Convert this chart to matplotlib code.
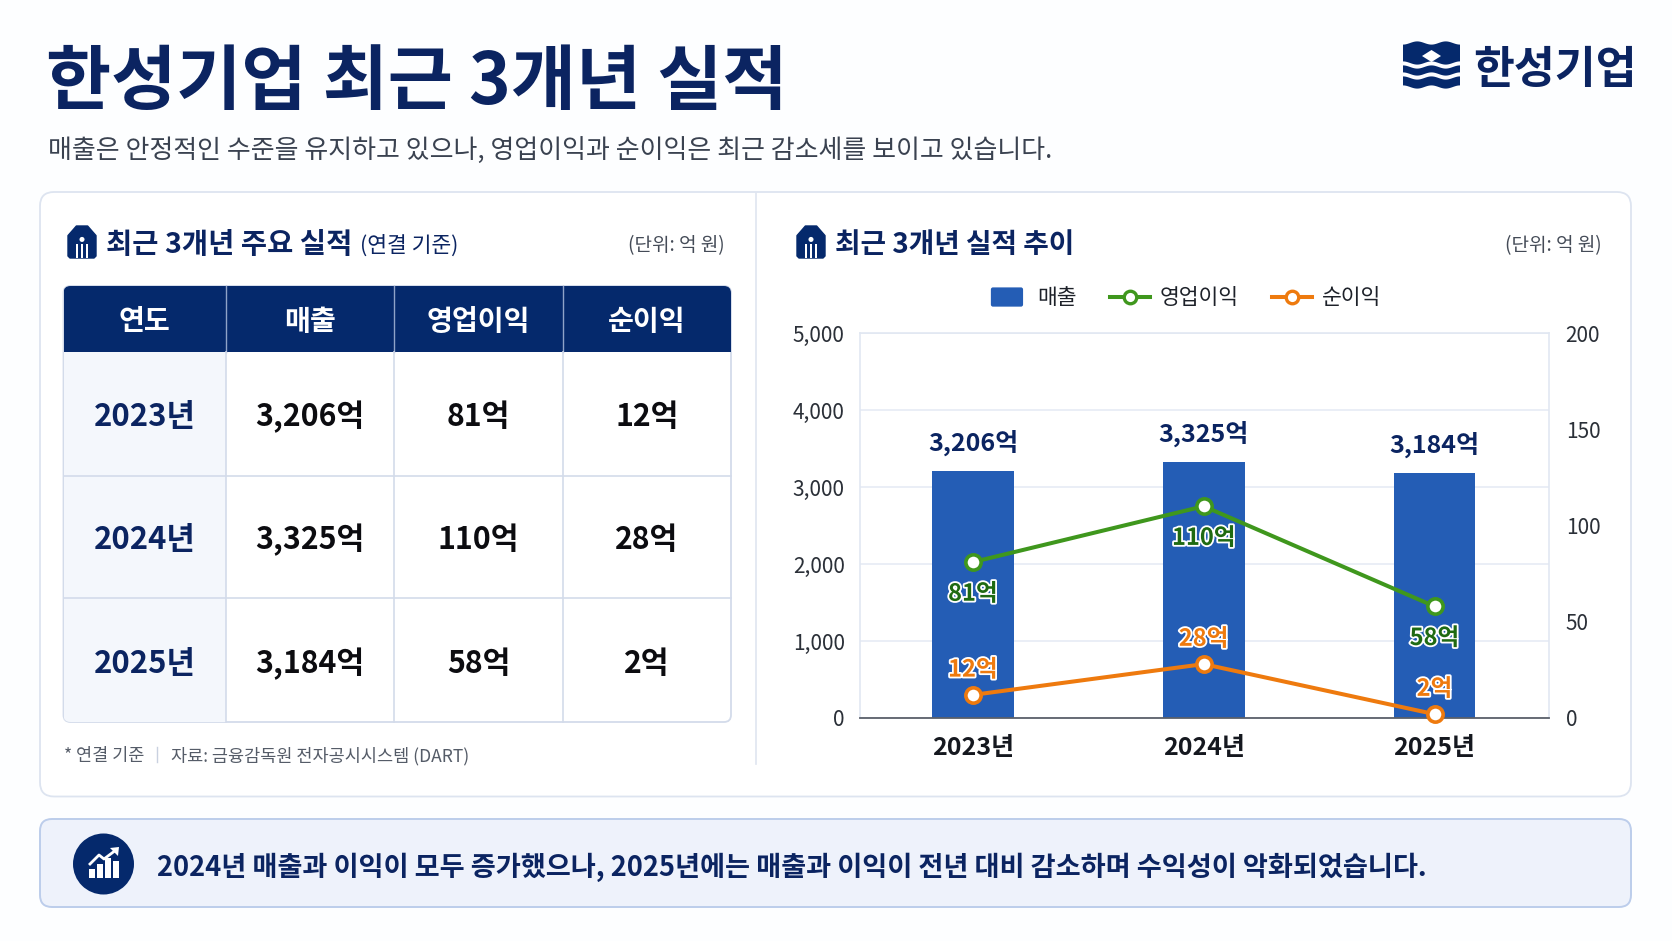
import numpy as np
import matplotlib
matplotlib.use("Agg")
import matplotlib.pyplot as plt
import matplotlib.patheffects as pe
from matplotlib.patches import FancyBboxPatch, Rectangle, Polygon, Circle
from matplotlib.lines import Line2D
from matplotlib.legend_handler import HandlerPatch
from matplotlib.ticker import FuncFormatter

plt.rcParams['font.family'] = ['Noto Sans CJK KR', 'DejaVu Sans']

# ---------- data ----------
years = ['2023년', '2024년', '2025년']
revenue = [3206, 3325, 3184]
op_profit = [81, 110, 58]
net_profit = [12, 28, 2]
table_headers = ['연도', '매출', '영업이익', '순이익']
left_ticks = [0, 1000, 2000, 3000, 4000, 5000]
right_ticks = [0, 50, 100, 150, 200]

# ---------- colours ----------
NAVY = '#0b2461'
HEAD = '#05296c'
BLUE = '#245db5'
GREEN = '#3f971d'
ORANGE = '#ee7a0e'
W, H = 1672, 941

fig = plt.figure(figsize=(W / 100, H / 100), dpi=100, facecolor='#fdfeff')
bg = fig.add_axes([0, 0, 1, 1], zorder=0)
bg.set_xlim(0, W)
bg.set_ylim(H, 0)
bg.axis('off')


def rbox(x0, y0, x1, y1, r, fc, ec, lw=1.2, z=1):
    p = FancyBboxPatch((x0, y0), x1 - x0, y1 - y0, boxstyle=f'round,pad=0,rounding_size={r}',
                       fc=fc, ec=ec, lw=lw, zorder=z)
    bg.add_patch(p)
    return p


def txt(x, y, s, size, color='#111111', weight='normal', ha='left', z=5):
    return bg.text(x, y, s, fontsize=size, color=color, fontweight=weight, ha=ha, va='center_baseline', zorder=z)


def person_icon(x0, y0, x1, y1):
    """small navy chamfered badge with a white figure"""
    w = x1 - x0
    h = y1 - y0
    bg.add_patch(Polygon([(x0, y0 + .3 * h), (x0 + .3 * w, y0), (x0 + .7 * w, y0), (x1, y0 + .3 * h),
                          (x1, y1 - 2), (x1 - 2, y1), (x0 + 2, y1), (x0, y1 - 2)],
                         closed=True, fc=HEAD, ec=HEAD, lw=1, joinstyle='round', zorder=4))
    cx = (x0 + x1) / 2
    bg.add_patch(Circle((cx, y0 + .42 * h), .09 * w, fc='white', ec='none', zorder=5))
    bg.add_patch(Rectangle((cx - .22 * w, y0 + .56 * h), .44 * w, .44 * h, fc='white', ec='none', zorder=5))
    bg.add_patch(Rectangle((cx - .13 * w, y0 + .56 * h), .26 * w, .44 * h, fc=HEAD, ec='none', zorder=6))
    bg.add_patch(Rectangle((cx - .03 * w, y0 + .56 * h), .06 * w, .44 * h, fc='white', ec='none', zorder=7))


# ---------- title block ----------
txt(46, 75, '한성기업 최근 3개년 실적', 51, NAVY, 'bold')
txt(48, 148, '매출은 안정적인 수준을 유지하고 있으나, 영업이익과 순이익은 최근 감소세를 보이고 있습니다.', 18.7, '#3a4250')

# logo
lx = np.linspace(1403, 1460, 60)
wave = 1.6 * np.cos((lx - 1431.5) / 57 * 4 * np.pi)
top = np.column_stack([lx, 43 + wave])
bot = np.column_stack([lx[::-1], 63 - wave[::-1]])
bg.add_patch(Polygon(np.vstack([top, bot]), closed=True, fc=HEAD, ec='none', zorder=4))
bg.add_patch(Polygon([(1422, 56), (1431.5, 50), (1441, 56), (1431.5, 62)], closed=True, fc='white', ec='none', zorder=5))
for y0, y1 in [(67, 74), (78, 87)]:
    top = np.column_stack([lx, y0 - wave])
    bot = np.column_stack([lx[::-1], y1 - wave[::-1]])
    bg.add_patch(Polygon(np.vstack([top, bot]), closed=True, fc=HEAD, ec='none', zorder=4))
txt(1473, 65, '한성기업', 32, NAVY, 'bold')

# ---------- main panel ----------
rbox(40, 192, 1631, 796.5, 14, 'white', '#dde4f0', 1.3)
bg.plot([756, 756], [193, 764], color='#dfe5f0', lw=1.2, zorder=2)

person_icon(68, 226, 96, 258)
txt(106, 242, '최근 3개년 주요 실적', 20.5, NAVY, 'bold')
txt(360, 243, '(연결 기준)', 15.5, NAVY, 'normal')
txt(725, 243, '(단위: 억 원)', 13.7, '#444b57', ha='right')

# ---------- table ----------
col_x = [63.5, 225.5, 394, 563, 731]
row_y = [286, 352, 475.5, 598, 722]
tb = rbox(col_x[0], row_y[0], col_x[-1], row_y[-1], 7, 'white', '#d3dbea', 1.3, z=2)
clip = rbox(col_x[0], row_y[0], col_x[-1], row_y[-1], 7, 'none', 'none', 0, z=1)
r1 = Rectangle((col_x[0], row_y[0]), col_x[-1] - col_x[0], row_y[1] - row_y[0], fc=HEAD, ec='none', zorder=3)
r2 = Rectangle((col_x[0], row_y[1]), col_x[1] - col_x[0], row_y[-1] - row_y[1], fc='#f4f7fc', ec='none', zorder=2.5)
for r in (r1, r2):
    bg.add_patch(r)
    r.set_clip_path(clip)
for x in col_x[1:-1]:
    bg.plot([x, x], [row_y[0], row_y[1]], color='#8fa3c8', lw=1, zorder=4)
    bg.plot([x, x], [row_y[1], row_y[-1]], color='#d3dbea', lw=1.2, zorder=4)
for y in row_y[2:-1]:
    bg.plot([col_x[0], col_x[-1]], [y, y], color='#d3dbea', lw=1.2, zorder=4)
for i, h in enumerate(table_headers):
    txt((col_x[i] + col_x[i + 1]) / 2, (row_y[0] + row_y[1]) / 2, h, 20.3, 'white', 'bold', ha='center')
for i, yr in enumerate(years):
    yc = (row_y[i + 1] + row_y[i + 2]) / 2
    txt((col_x[0] + col_x[1]) / 2, yc, yr, 22.3, NAVY, 'bold', ha='center')
    for j, v in enumerate([revenue[i], op_profit[i], net_profit[i]]):
        txt((col_x[j + 1] + col_x[j + 2]) / 2, yc, f'{v:,}억', 21.8, '#0c0c10', 'bold', ha='center')

txt(64, 754, '* 연결 기준', 12.6, '#555c68')
bg.plot([157, 157], [747, 762], color='#c9d1e0', lw=1, zorder=3)
txt(171, 754, '자료: 금융감독원 전자공시시스템 (DART)', 12.6, '#555c68')

# ---------- chart ----------
person_icon(797, 226, 825, 258)
txt(835, 242, '최근 3개년 실적 추이', 20, NAVY, 'bold')
txt(1602, 243, '(단위: 억 원)', 13.7, '#444b57', ha='right')

L, R, T, B = 860, 1549, 333, 718
ax = fig.add_axes([L / W, 1 - B / H, (R - L) / W, (B - T) / H], zorder=2)
ax.set_facecolor('white')
x = np.arange(len(years))
bars = ax.bar(x, revenue, width=0.355, color=BLUE, zorder=3, label='매출')
ax.set_xlim(-0.489, 2.496)
ax.set_ylim(0, 5000)
ax.set_yticks(left_ticks)
ax.yaxis.set_major_formatter(FuncFormatter(lambda v, p: f'{int(v):,}'))
ax.set_xticks(x)
ax.set_xticklabels(years, fontsize=18, fontweight='bold', color='#15181f')
ax.tick_params(axis='x', length=0, pad=13)
ax.tick_params(axis='y', length=0, pad=11, labelsize=15, labelcolor='#2b3038')
ax.grid(axis='y', color='#e6ebf5', lw=1.2, zorder=0)
for s in ('left', 'right', 'top'):
    ax.spines[s].set_color('#e1e7f2')
    ax.spines[s].set_linewidth(1.2)
ax.spines['bottom'].set_color('#5b606a')
ax.spines['bottom'].set_linewidth(1.3)
ax.spines['bottom'].set_zorder(6)

for xi, v in zip(x, revenue):
    ax.annotate(f'{v:,}억', (xi, v), xytext=(0, 22), textcoords='offset points', ha='center', va='center_baseline',
                fontsize=18, fontweight='bold', color=NAVY, zorder=6)

ax2 = ax.twinx()
ax2.set_ylim(0, 200)
ax2.set_yticks(right_ticks)
ax2.tick_params(axis='y', length=0, pad=12, labelsize=15, labelcolor='#2b3038')
for s in ax2.spines.values():
    s.set_visible(False)
mk = dict(marker='o', ms=11, mfc='white', mew=2.6, lw=2.9, solid_capstyle='round', clip_on=False, zorder=5)
l1, = ax2.plot(x, op_profit, color=GREEN, label='영업이익', **mk)
l2, = ax2.plot(x, net_profit, color=ORANGE, label='순이익', **mk)
halo = [pe.withStroke(linewidth=2.6, foreground='white')]
for xi, v in zip(x, op_profit):
    ax2.annotate(f'{v}억', (xi, v), xytext=(0, -21), textcoords='offset points', ha='center', va='center_baseline',
                 fontsize=17, fontweight='bold', color='#1f6a12', path_effects=halo, zorder=7)
for xi, v in zip(x, net_profit):
    ax2.annotate(f'{v}억', (xi, v), xytext=(0, 20), textcoords='offset points', ha='center', va='center_baseline',
                 fontsize=17, fontweight='bold', color=ORANGE, path_effects=halo, zorder=7)


def swatch(legend, orig_handle, xdescent, ydescent, width, height, fontsize):
    return FancyBboxPatch((-xdescent + width * 0.1, -ydescent - 1), width * 0.8, height + 2,
                          boxstyle='round,pad=0,rounding_size=1.5')


handles = [Rectangle((0, 0), 1, 1, fc=BLUE, ec='none'),
           Line2D([], [], color=GREEN, marker='o', ms=9, mfc='white', mew=2.4, lw=2.9),
           Line2D([], [], color=ORANGE, marker='o', ms=9, mfc='white', mew=2.4, lw=2.9)]
fig.legend(handles, ['매출', '영업이익', '순이익'], ncols=3, loc='center', bbox_to_anchor=(1184 / W, 1 - 298.5 / H),
           frameon=False, fontsize=15.5, handlelength=1.87, handleheight=0.8, handletextpad=0.45, columnspacing=1.55,
           labelcolor='#1d2129', handler_map={Rectangle: HandlerPatch(patch_func=swatch)})

# ---------- takeaway ----------
rbox(40, 819, 1631, 907, 12, '#eef2fb', '#bccdeb', 1.4)
bg.add_patch(Circle((103.5, 864), 30.5, fc=HEAD, ec='none', zorder=4))
for bx, btop in [(89, 869), (97, 864), (105, 858), (113, 861)]:
    bg.add_patch(Rectangle((bx, btop), 6, 878 - btop, fc='white', ec='none', zorder=5))
bg.plot([90, 99, 104, 116], [864, 855, 859, 850], color='white', lw=2, zorder=5)
bg.add_patch(Polygon([(110, 848), (119, 847), (118, 856)], closed=True, fc='white', ec='none', zorder=5))
txt(157, 864.5, '2024년 매출과 이익이 모두 증가했으나, 2025년에는 매출과 이익이 전년 대비 감소하며 수익성이 악화되었습니다.', 19.6, NAVY, 'bold')

fig.savefig('out.png', dpi=100, facecolor=fig.get_facecolor())
